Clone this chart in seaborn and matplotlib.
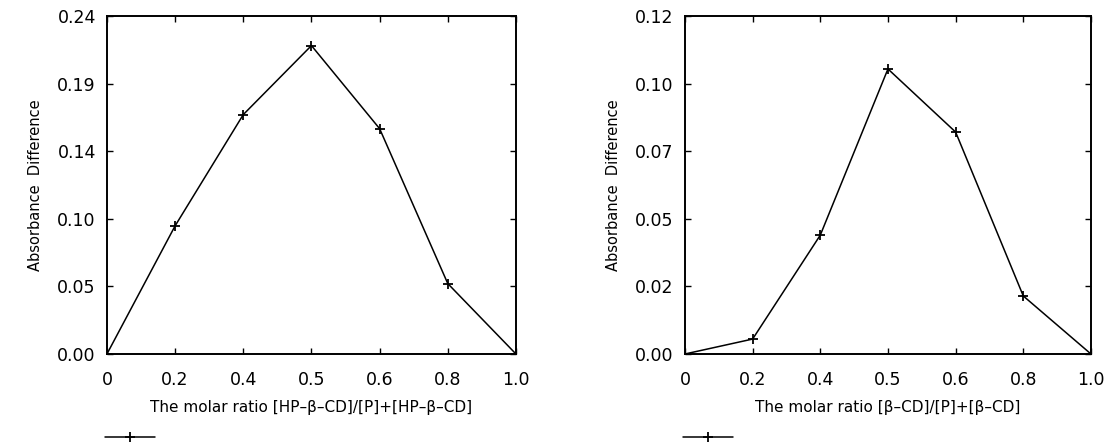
import matplotlib
matplotlib.use("Agg")
import matplotlib.pyplot as plt
import seaborn as sns
import pandas as pd
import numpy as np
from matplotlib.lines import Line2D

# ---- data ----
ratio_labels = ["0", "0.2", "0.4", "0.5", "0.6", "0.8", "1.0"]
hp_bcd_absorbance = [0.0, 0.091, 0.170, 0.219, 0.160, 0.050, 0.0]
bcd_absorbance = [0.0, 0.0053, 0.0422, 0.1012, 0.0788, 0.0206, 0.0]

left_yticks = [0.0, 0.048, 0.096, 0.144, 0.192, 0.24]
left_yticklabels = ["0.00", "0.05", "0.10", "0.14", "0.19", "0.24"]
right_yticks = [0.0, 0.024, 0.048, 0.072, 0.096, 0.12]
right_yticklabels = ["0.00", "0.02", "0.05", "0.07", "0.10", "0.12"]

left_xlabel = "The molar ratio [HP\u2013\u03b2\u2013CD]/[P]+[HP\u2013\u03b2\u2013CD]"
right_xlabel = "The molar ratio [\u03b2\u2013CD]/[P]+[\u03b2\u2013CD]"
ylabel = "Absorbance  Difference"

sns.set_theme(style="white")
plt.rcParams["font.family"] = ["DejaVu Sans"]

fig = plt.figure(figsize=(11.06, 4.46), dpi=100)
ax1 = fig.add_axes([0.0967, 0.2063, 0.3698, 0.7578])
ax2 = fig.add_axes([0.6193, 0.2063, 0.3671, 0.7578])

panels = [
    (ax1, hp_bcd_absorbance, left_yticks, left_yticklabels, left_xlabel),
    (ax2, bcd_absorbance, right_yticks, right_yticklabels, right_xlabel),
]

for ax, vals, yt, ytl, xl in panels:
    df = pd.DataFrame({"ratio": ratio_labels, "abs": vals})
    sns.lineplot(data=df, x="ratio", y="abs", ax=ax, color="black",
                 linewidth=1.1, marker="+", markersize=7, markeredgewidth=1.3,
                 markeredgecolor="black", sort=False)
    ax.set_xlim(0, len(ratio_labels) - 1)
    ax.set_ylim(yt[0], yt[-1])
    ax.set_yticks(yt)
    ax.set_yticklabels(ytl)
    ax.set_xlabel(xl, fontsize=11, labelpad=8, color="black")
    ax.set_ylabel(ylabel, fontsize=10.5, labelpad=10, color="black")
    ax.tick_params(direction="in", length=4, width=1, colors="black",
                   labelsize=12.5, top=True, right=True, bottom=True, left=True)
    ax.tick_params(axis="x", pad=12)
    ax.tick_params(axis="y", pad=8)
    for s in ax.spines.values():
        s.set_color("black")
        s.set_linewidth(1.4)
    handle = Line2D([], [], color="black", linewidth=1.1, marker="+",
                    markersize=7, markeredgewidth=1.3)
    ax.legend(handles=[handle], labels=[""], loc="upper left",
              bbox_to_anchor=(-0.005, -0.225), frameon=False,
              handlelength=3.3, numpoints=1, borderpad=0, handletextpad=0,
              borderaxespad=0)

fig.savefig("out.png", dpi=100)
